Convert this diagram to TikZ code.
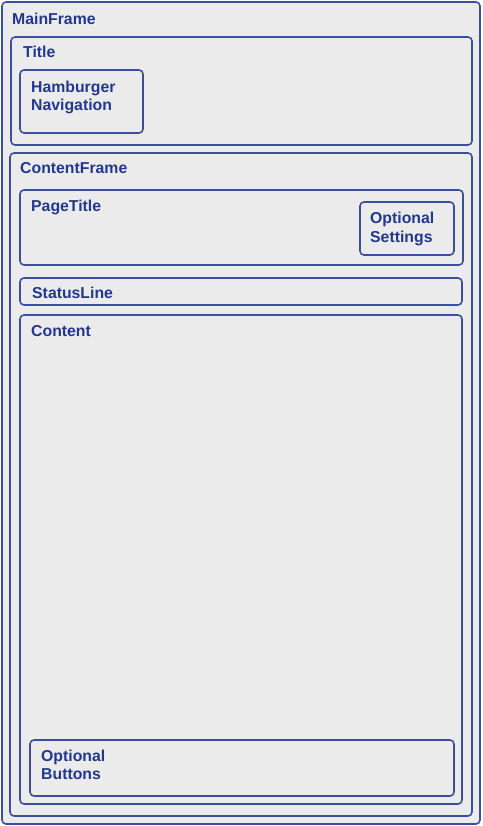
\documentclass[tikz,border=0pt]{standalone}
\usepackage{fontspec}
\setmainfont{Liberation Sans}
\usetikzlibrary{positioning}
\definecolor{frameblue}{HTML}{3A4FA0}
\definecolor{textblue}{HTML}{22378F}
\definecolor{panelgray}{HTML}{EBEBEB}
\tikzset{
  panel/.style={ draw=frameblue, fill=panelgray, line width=1.6pt, rounded corners=4pt, inner sep=0pt }
}
\tikzset{
  caption/.style={ text=textblue, font=\fontsize{15.8}{18}\selectfont\bfseries, inner sep=0pt, anchor=base west, align=left }
}

\begin{document}
\begin{tikzpicture}[x=1pt, y=-1pt]
      \useasboundingbox (0,0) rectangle (482,826);

      \node[panel, minimum width=478pt, minimum height=822pt] (main) at (241, 413) {};
      \node[caption] (mainT) at (12, 24.5) {MainFrame};

      \node[panel, minimum width=461pt, minimum height=108pt] (title) at (241.5, 91) {};
      \node[caption] (titleT) at (23, 57.5) {Title};
      \node[panel, minimum width=123pt, minimum height=63pt] (ham) at (81.5, 101.5) {};
      % base of a two line caption is its last line
      \node[caption] (hamT) at (31, 110.5) {Hamburger\\Navigation};

      \node[panel, minimum width=462pt, minimum height=663pt] (cframe) at (241, 484.5) {};
      \node[caption] (cframeT) at (20, 173.5) {ContentFrame};

      \node[panel, minimum width=443pt, minimum height=75pt] (ptitle) at (241.5, 227.5) {};
      \node[caption] (ptitleT) at (31, 211.5) {PageTitle};
      \node[panel, minimum width=94pt, minimum height=53pt] (opts) at (407, 228.5) {};
      \node[caption] (optsT) at (370, 242) {Optional\\Settings};

      \node[panel, minimum width=442pt, minimum height=27pt] (status) at (241, 291.5) {};
      \node[caption] (statusT) at (32, 298.5) {StatusLine};

      \node[panel, minimum width=442pt, minimum height=489pt] (content) at (241, 559.5) {};
      \node[caption] (contentT) at (31, 336.5) {Content};
      \node[panel, minimum width=424pt, minimum height=56pt] (btns) at (242, 768) {};
      \node[caption] (btnsT) at (41, 779.5) {Optional\\Buttons};
    \end{tikzpicture}
\end{document}
